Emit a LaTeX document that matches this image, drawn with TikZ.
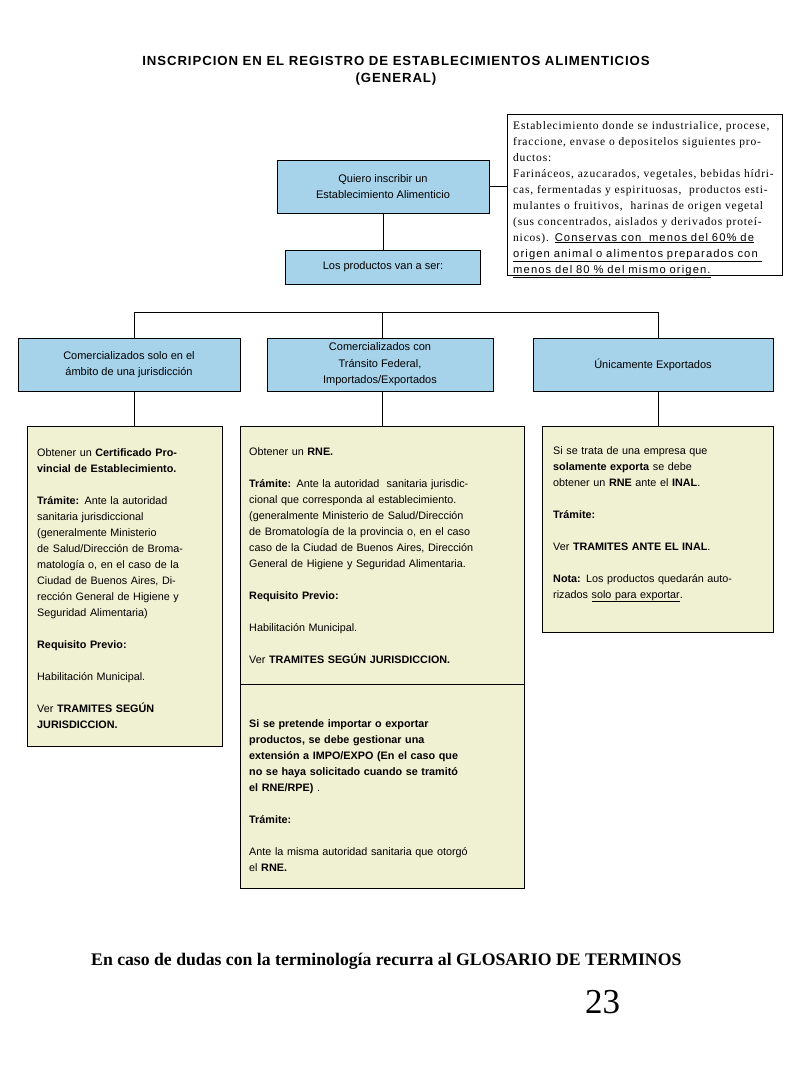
\documentclass[tikz,border=0pt]{standalone}
\usepackage{fontspec}
\setmainfont{Liberation Sans}
\newfontfamily\titlefont{Liberation Sans}[LetterSpace=7]
\newfontfamily\notefont{Liberation Serif}[LetterSpace=7]
\newfontfamily\notesans{Liberation Sans}[LetterSpace=10]
\newfontfamily\serifb{Liberation Serif}
\definecolor{hdrblue}{RGB}{166,210,234}
\definecolor{boxcream}{RGB}{240,240,210}
\begin{document}
\begin{tikzpicture}[x=1pt,y=-1pt,
  hdr/.style={draw=black, fill=hdrblue, line width=0.8pt, inner sep=0pt, align=center, font=\fontsize{11}{16.5}\selectfont},
  cbox/.style={draw=black, fill=boxcream, line width=0.8pt, inner sep=0pt},
  notebox/.style={draw=black, fill=white, line width=0.8pt, inner sep=0pt},
  txt/.style={anchor=base west, align=left, inner sep=0pt, font=\fontsize{10.8}{16}\selectfont},
  conn/.style={draw=black, line width=0.8pt}]
\useasboundingbox (0,0) rectangle (800,1066);
\fill[white] (0,0) rectangle (800,1066);

% title
\node[align=center, inner sep=0pt, font=\titlefont\fontsize{13.2}{17}\selectfont\bfseries] (title) at (396,71)
  {INSCRIPCION EN EL REGISTRO DE ESTABLECIMIENTOS ALIMENTICIOS\\(GENERAL)};

% top boxes
\node[hdr, minimum width=212pt, minimum height=53pt] (quiero) at (383,186.5)
  {Quiero inscribir un\\Establecimiento Alimenticio};
\node[hdr, minimum width=195pt, minimum height=34pt] (prod) at (383,267)
  {Los productos van a ser:};
\node[notebox, minimum width=275pt, minimum height=161pt] (note) at (644.5,194.5) {};
\node[txt, text width=272pt, font=\fontsize{11.5}{16}\selectfont\notefont] (notetxt) at (513,129)
  {Establecimiento donde se industrialice, procese,\\
   fraccione, envase o depositelos siguientes pro-\\
   ductos:\\
   Farináceos, azucarados, vegetales, bebidas hídri-\\
   cas, fermentadas y espirituosas,\ \ productos esti-\\
   mulantes o fruitivos,\ \ harinas de origen vegetal\\
   (sus concentrados, aislados y derivados proteí-\\
   nicos). \underline{\notesans\fontsize{11.2}{16}\selectfont Conservas con\ \ menos del 60\% de}\\
   \underline{\notesans\fontsize{11.2}{16}\selectfont origen animal o alimentos preparados con\ }\\
   \underline{\notesans\fontsize{11.2}{16}\selectfont menos del 80 \% del mismo origen.}};

\draw[conn] (quiero.east) -- (quiero.east -| note.west);
\draw[conn] (quiero.south) -- (prod.north);

% headers
\node[hdr, minimum width=222pt, minimum height=53pt] (h1) at (129,364.5)
  {Comercializados solo en el\\ámbito de una jurisdicción};
\node[hdr, minimum width=226pt, minimum height=53pt] (h2) at (380,364.5)
  {Comercializados con\\Tránsito Federal,\\Importados/Exportados};
\node[hdr, minimum width=240pt, minimum height=53pt] (h3) at (653,364.5)
  {Únicamente Exportados};

\coordinate (bl) at (134,312);
\coordinate (bm) at (382,312);
\coordinate (br) at (658,312);
\draw[conn] (bl) -- (br);
\draw[conn] (bl) -- (bl |- h1.north);
\draw[conn] (bm) -- (bm |- h2.north);
\draw[conn] (br) -- (br |- h3.north);

% content boxes
\node[cbox, minimum width=195pt, minimum height=320pt] (c1) at (124.5,586) {};
\node[cbox, minimum width=284pt, minimum height=258pt] (c2) at (382,555) {};
\node[cbox, minimum width=284pt, minimum height=204pt] (c2b) at (382,786) {};
\node[cbox, minimum width=231pt, minimum height=206pt] (c3) at (657.5,529) {};

\draw[conn] (bl |- h1.south) -- (bl |- c1.north);
\draw[conn] (bm |- h2.south) -- (bm |- c2.north);
\draw[conn] (br |- h3.south) -- (br |- c3.north);

\node[txt, text width=185pt] (c1txt) at (37,456)
  {Obtener un \textbf{Certificado Pro-}\\
   \textbf{vincial de Establecimiento.}\\[16pt]
   \textbf{Trámite:} Ante la autoridad\\
   sanitaria jurisdiccional\\
   (generalmente Ministerio\\
   de Salud/Dirección de Broma-\\
   matología o, en el caso de la\\
   Ciudad de Buenos Aires, Di-\\
   rección General de Higiene y\\
   Seguridad Alimentaria)\\[16pt]
   \textbf{Requisito Previo:}\\[16pt]
   Habilitación Municipal.\\[16pt]
   Ver \textbf{TRAMITES SEGÚN}\\
   \textbf{JURISDICCION.}};

\node[txt, text width=272pt] (c2txt) at (249,455)
  {Obtener un \textbf{RNE.}\\[16pt]
   \textbf{Trámite:} Ante la autoridad\ \ sanitaria jurisdic-\\
   cional que corresponda al establecimiento.\\
   (generalmente Ministerio de Salud/Dirección\\
   de Bromatología de la provincia o, en el caso\\
   caso de la Ciudad de Buenos Aires, Dirección\\
   General de Higiene y Seguridad Alimentaria.\\[16pt]
   \textbf{Requisito Previo:}\\[16pt]
   Habilitación Municipal.\\[16pt]
   Ver \textbf{TRAMITES SEGÚN JURISDICCION.}};

\node[txt, text width=272pt] (c2btxt) at (249,727)
  {\textbf{Si se pretende importar o exportar}\\
   \textbf{productos, se debe gestionar una}\\
   \textbf{extensión a IMPO/EXPO (En el caso que}\\
   \textbf{no se haya solicitado cuando se tramitó}\\
   \textbf{el RNE/RPE)} .\\[16pt]
   \textbf{Trámite:}\\[16pt]
   Ante la misma autoridad sanitaria que otorgó\\
   el \textbf{RNE.}};

\node[txt, text width=218pt] (c3txt) at (553,454)
  {Si se trata de una empresa que\\
   \textbf{solamente exporta} se debe\\
   obtener un \textbf{RNE} ante el \textbf{INAL}.\\[16pt]
   \textbf{Trámite:}\\[16pt]
   Ver \textbf{TRAMITES ANTE EL INAL}.\\[16pt]
   \textbf{Nota:} Los productos quedarán auto-\\
   rizados \underline{solo para exportar}.};

% footer
\node[anchor=base west, inner sep=0pt, font=\serifb\fontsize{17.7}{20}\selectfont\bfseries] (foot) at (91,965)
  {En caso de dudas con la terminología recurra al GLOSARIO DE TERMINOS};
\node[anchor=base west, inner sep=0pt, font=\serifb\fontsize{35}{40}\selectfont] (page) at (585,1013) {23};
\end{tikzpicture}
\end{document}
